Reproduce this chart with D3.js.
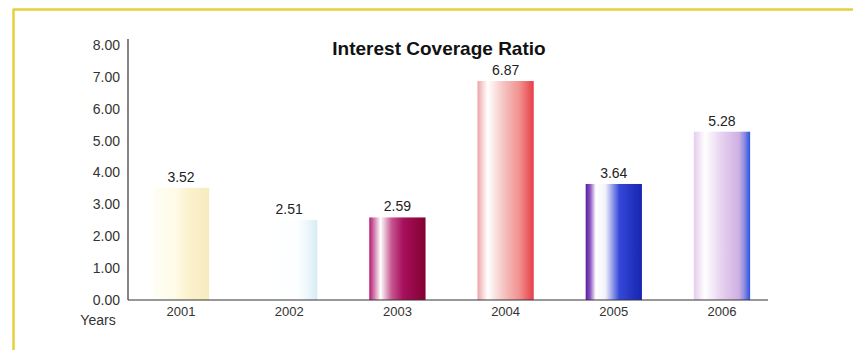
<!DOCTYPE html>
<html>
<head>
<meta charset="utf-8">
<script src="https://cdn.jsdelivr.net/npm/d3@7"></script>
<style>
  html, body { margin: 0; padding: 0; background: #fff; }
  svg { display: block; font-family: "Liberation Sans", Arial, sans-serif; }
</style>
</head>
<body>
<svg id="chart" width="853" height="350"></svg>
<script>
// ---- data ----
const years = ["2001", "2002", "2003", "2004", "2005", "2006"];
const ratios = [3.52, 2.51, 2.59, 6.87, 3.64, 5.28];
const tickValues = [0, 1, 2, 3, 4, 5, 6, 7, 8];
const chartTitle = "Interest Coverage Ratio";
const xAxisName = "Years";

// ---- styles (gradient stops per bar: [offset, color]) ----
const barGradients = [
  [[0, "#fffef6"], [0.4, "#fffbe8"], [0.6, "#fbf2cf"], [1, "#f6ebc0"]],
  [[0, "#ffffff"], [0.65, "#fcfeff"], [0.82, "#eef7fb"], [1, "#d6ebf4"]],
  [[0, "#b21a6e"], [0.1, "#d78ab4"], [0.2, "#ffffff"], [0.4, "#c5558f"], [0.6, "#a8105e"], [1, "#820030"]],
  [[0, "#eea3a6"], [0.1, "#f8d8d8"], [0.18, "#ffffff"], [0.45, "#f6c6c4"], [0.75, "#f1908e"], [1, "#e63e48"]],
  [[0, "#5a1aa0"], [0.08, "#8a55c0"], [0.18, "#ffffff"], [0.35, "#f2f2fb"], [0.6, "#3548d8"], [1, "#1624b0"]],
  [[0, "#e6cdee"], [0.1, "#f2e6f6"], [0.2, "#ffffff"], [0.5, "#e6d0ef"], [0.8, "#cfb0e2"], [0.9, "#8a8ae0"], [1, "#2a52e6"]]
];

const font = "'Liberation Sans', Arial, sans-serif";
const svg = d3.select("#chart");

// frame (yellow scanned border)
svg.append("line").attr("x1", 13).attr("x2", 853).attr("y1", 9.5).attr("y2", 9.5)
  .attr("stroke", "#e6cf3c").attr("stroke-width", 2.5);
svg.append("line").attr("x1", 13.5).attr("x2", 13.5).attr("y1", 9).attr("y2", 350)
  .attr("stroke", "#e6cf3c").attr("stroke-width", 2.5);

// scales
const x = d3.scaleBand().domain(years).range([128, 775]).paddingInner(0.48).paddingOuter(0.23);
const y = d3.scaleLinear().domain([0, 8]).range([300, 45]);

// gradients
const defs = svg.append("defs");
years.forEach((yr, i) => {
  const g = defs.append("linearGradient").attr("id", "g" + i)
    .attr("x1", "0%").attr("x2", "100%").attr("y1", "0%").attr("y2", "0%");
  barGradients[i].forEach(s => g.append("stop").attr("offset", s[0]).attr("stop-color", s[1]));
});

// bars
svg.append("g").selectAll("rect").data(years).join("rect")
  .attr("x", d => x(d))
  .attr("width", x.bandwidth())
  .attr("y", (d, i) => y(ratios[i]))
  .attr("height", (d, i) => y(0) - y(ratios[i]))
  .attr("fill", (d, i) => `url(#g${i})`);

// value labels
svg.append("g").selectAll("text").data(years).join("text")
  .attr("x", d => x(d) + x.bandwidth() / 2)
  .attr("y", (d, i) => y(ratios[i]) - 6)
  .attr("text-anchor", "middle")
  .attr("font-size", 14)
  .attr("fill", "#222")
  .text((d, i) => ratios[i].toFixed(2));

// y axis
const yAxis = d3.axisLeft(y).tickValues(tickValues).tickSize(0).tickPadding(8)
  .tickFormat(d3.format(".2f"));
const yg = svg.append("g").attr("transform", "translate(128,0)").call(yAxis);
yg.select(".domain").attr("stroke", "#333").attr("stroke-width", 1.2).attr("d", `M0,${39}V${y(0)}`);
yg.selectAll("text").attr("font-size", 14).attr("fill", "#333").attr("font-family", font);

// x axis
const xAxis = d3.axisBottom(x).tickSize(0).tickPadding(7);
const xg = svg.append("g").attr("transform", `translate(0,${y(0)})`).call(xAxis);
xg.select(".domain").attr("stroke", "#333").attr("stroke-width", 1.2).attr("d", `M128,0H768`);
xg.selectAll("text").attr("font-size", 13).attr("fill", "#333").attr("font-family", font);

// axis name
svg.append("text").attr("x", 98).attr("y", 325).attr("text-anchor", "middle")
  .attr("font-size", 14).attr("fill", "#333").text(xAxisName);

// title
svg.append("text").attr("x", 439).attr("y", 55).attr("text-anchor", "middle")
  .attr("font-size", 19).attr("font-weight", "bold").attr("fill", "#111").text(chartTitle);
</script>
</body>
</html>
